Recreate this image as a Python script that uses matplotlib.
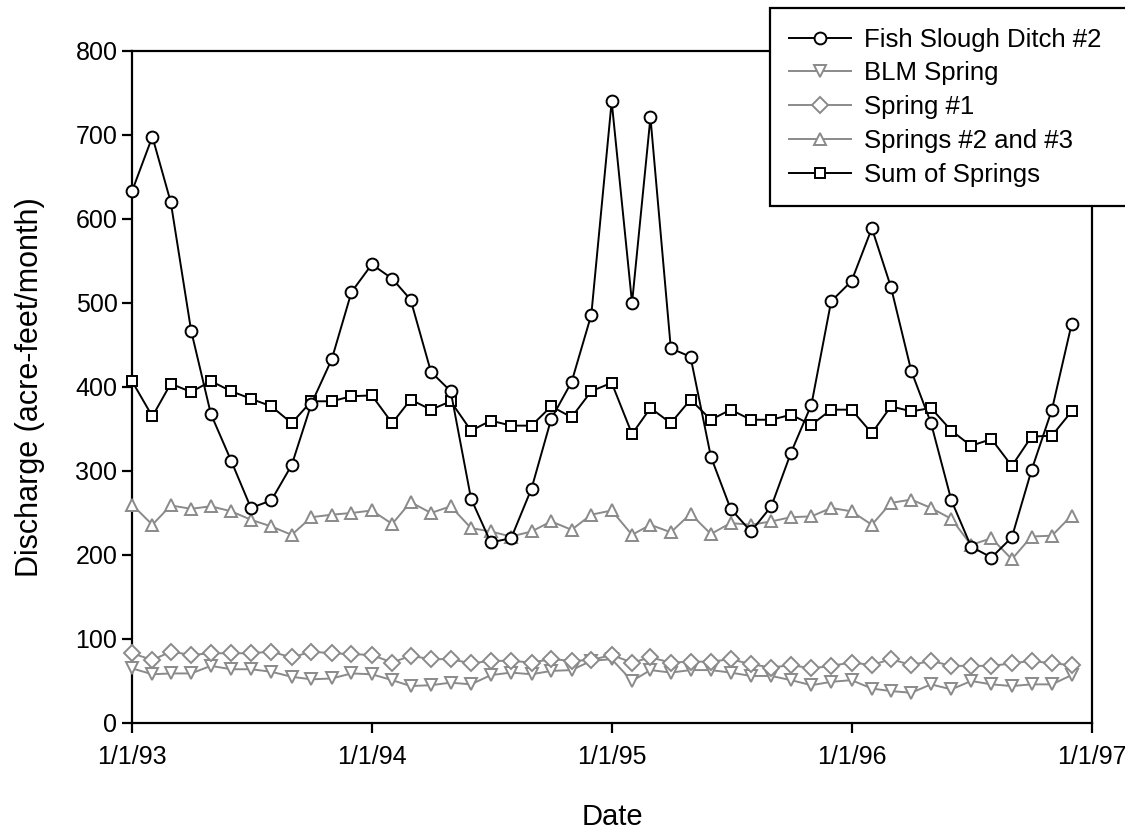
import numpy as np
import pandas as pd
import matplotlib
matplotlib.use("Agg")
import matplotlib.pyplot as plt

plt.rcParams['font.family'] = ['Liberation Sans', 'DejaVu Sans']

# monthly values, Jan 1993 - Dec 1996
months = pd.date_range("1993-01-01", periods=48, freq="MS")

fish_slough = [633, 698, 620, 467, 368, 312, 256, 265, 307, 380, 433, 513,
               546, 529, 504, 418, 395, 267, 215, 220, 279, 362, 406, 486,
               740, 500, 721, 446, 436, 317, 255, 228, 258, 322, 379, 502,
               526, 589, 519, 419, 357, 265, 210, 197, 221, 301, 373, 475]
blm_spring = [65, 58, 59, 59, 68, 64, 64, 61, 55, 52, 53, 59,
              58, 51, 44, 45, 48, 46, 57, 60, 58, 62, 63, 74,
              76, 50, 63, 60, 63, 63, 60, 56, 56, 51, 45, 49,
              51, 41, 38, 36, 46, 40, 50, 46, 44, 46, 46, 57]
spring_1 = [83, 75, 85, 81, 83, 83, 83, 85, 78, 85, 83, 82,
            81, 72, 80, 76, 76, 71, 74, 74, 72, 76, 74, 75,
            81, 72, 78, 72, 73, 73, 76, 70, 66, 69, 65, 68,
            72, 69, 76, 69, 74, 68, 68, 68, 71, 74, 71, 69]
springs_2_3 = [260, 236, 259, 255, 258, 252, 242, 234, 224, 245, 248, 250,
               253, 237, 263, 250, 258, 232, 228, 222, 228, 240, 230, 248,
               253, 224, 236, 227, 249, 225, 238, 236, 240, 245, 246, 256,
               252, 236, 262, 266, 256, 243, 212, 220, 195, 222, 223, 247]
sum_springs = [407, 365, 404, 394, 407, 395, 386, 377, 357, 383, 383, 389,
               390, 357, 385, 373, 383, 348, 360, 354, 354, 377, 364, 395,
               405, 344, 375, 357, 385, 361, 373, 361, 361, 367, 355, 373,
               373, 345, 377, 371, 375, 348, 330, 338, 306, 341, 342, 371]

gray = '#8a8a8a'

fig = plt.figure(figsize=(11.25, 8.36), dpi=100)
ax = fig.add_axes([132/1125, 113/836, 960/1125, 672/836])

ax.plot(months, fish_slough, color='black', lw=1.4, marker='o', ms=8.5,
        mfc='white', mec='black', mew=1.4, label='Fish Slough Ditch #2', clip_on=False, zorder=5)
ax.plot(months, blm_spring, color=gray, lw=1.4, marker='v', ms=9,
        mfc='white', mec=gray, mew=1.4, label='BLM Spring', clip_on=False, zorder=3)
ax.plot(months, spring_1, color=gray, lw=1.4, marker='D', ms=8,
        mfc='white', mec=gray, mew=1.4, label='Spring #1', clip_on=False, zorder=3)
ax.plot(months, springs_2_3, color=gray, lw=1.4, marker='^', ms=9,
        mfc='white', mec=gray, mew=1.4, label='Springs #2 and #3', clip_on=False, zorder=3)
ax.plot(months, sum_springs, color='black', lw=1.4, marker='s', ms=7.5,
        mfc='white', mec='black', mew=1.4, label='Sum of Springs', clip_on=False, zorder=4)

ax.set_ylim(0, 800)
ax.set_yticks(range(0, 801, 100))
ax.set_xlim(pd.Timestamp("1993-01-01"), pd.Timestamp("1997-01-01"))
xt = pd.to_datetime(["1993-01-01", "1994-01-01", "1995-01-01", "1996-01-01", "1997-01-01"])
ax.set_xticks(xt)
ax.set_xticklabels(["1/1/93", "1/1/94", "1/1/95", "1/1/96", "1/1/97"])

for s in ax.spines.values():
    s.set_linewidth(1.6)
ax.tick_params(axis='both', labelsize=18, width=1.6, length=7, direction='out')
ax.tick_params(axis='x', pad=9)

ax.set_xlabel("Date", fontsize=21, labelpad=24)
ax.set_ylabel("Discharge (acre-feet/month)", fontsize=22, labelpad=22)

leg = ax.legend(loc='lower left', bbox_to_anchor=(770/1125, 630/836, 380/1125, 0.2),
                bbox_transform=fig.transFigure, mode='expand', fontsize=18.5,
                frameon=True, fancybox=False, framealpha=1, edgecolor='black',
                handlelength=2.4, handletextpad=0.5, labelspacing=0.38,
                borderpad=0.75, borderaxespad=0)
leg.get_frame().set_linewidth(1.6)

fig.savefig("out.png", dpi=100)
